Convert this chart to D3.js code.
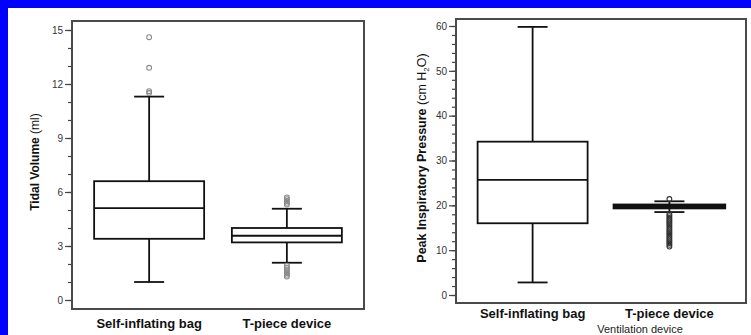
<!DOCTYPE html>
<html>
<head>
<meta charset="utf-8">
<script src="https://cdn.jsdelivr.net/npm/d3@7"></script>
<style>
  html, body { margin: 0; padding: 0; background: #fff; }
  svg { display: block; font-family: "Liberation Sans", Arial, sans-serif; }
</style>
</head>
<body>
<svg id="chart" width="751" height="335"></svg>
<script>
// Ventilation devices compared
const categories = ["Self-inflating bag", "T-piece device"];

// Tidal volume (ml): five-number summaries per device
const tvQ1 = [3.4, 3.2];
const tvMedian = [5.1, 3.57];
const tvQ3 = [6.6, 4.0];
const tvLow = [1.0, 2.07];
const tvHigh = [11.3, 5.07];
const tvOutliers = [
  [14.6, 12.9, 11.6, 11.5],
  [5.3, 5.4, 5.5, 5.6, 5.7, 1.9, 1.8, 1.7, 1.6, 1.5, 1.4, 1.3]
];
const tvTicks = [0, 3, 6, 9, 12, 15];

// Peak inspiratory pressure (cm H2O): five-number summaries per device
const pipQ1 = [16.0, 19.5];
const pipMedian = [25.7, 19.8];
const pipQ3 = [34.2, 20.0];
const pipLow = [2.8, 18.5];
const pipHigh = [59.8, 20.9];
const pipOutliers = [
  [],
  [21.4, 18.0, 17.6, 17.2, 16.8, 16.4, 16.0, 15.6, 15.2, 14.8, 14.4, 14.0, 13.6, 13.2, 12.8, 12.4, 12.0, 11.6, 11.2, 10.8]
];
const pipTicks = [0, 10, 20, 30, 40, 50, 60];

const svg = d3.select("#chart");

// Blue page edge along the top and left
svg.append("rect").attr("x", 0).attr("y", 0).attr("width", 751).attr("height", 8).attr("fill", "#0000ff");
svg.append("rect").attr("x", 0).attr("y", 0).attr("width", 8).attr("height", 335).attr("fill", "#0000ff");

function boxPanel(opt) {
  const g = svg.append("g");
  const x = d3.scalePoint().domain(categories).range([opt.x0, opt.x1]).padding(0.56);
  const y = d3.scaleLinear().domain(opt.domain).range([opt.yBottom, opt.yTop]);

  // plot frame
  g.append("rect")
    .attr("x", opt.x0).attr("y", opt.frameTop)
    .attr("width", opt.x1 - opt.x0).attr("height", opt.frameBottom - opt.frameTop)
    .attr("fill", "none").attr("stroke", "#4a4a4a").attr("stroke-width", 2);

  // minor ticks
  const minor = g.append("g").attr("transform", `translate(${opt.x0 - 1},0)`)
    .call(d3.axisLeft(y).tickValues(opt.minorTicks).tickSize(3).tickFormat(""));
  minor.select(".domain").remove();
  minor.selectAll("line").attr("stroke", "#444").attr("stroke-width", 1.2);

  // major ticks with labels
  const ax = g.append("g").attr("transform", `translate(${opt.x0 - 1},0)`)
    .call(d3.axisLeft(y).tickValues(opt.ticks).tickSize(6).tickPadding(2).tickFormat(d3.format("d")));
  ax.select(".domain").remove();
  ax.selectAll("line").attr("stroke", "#444").attr("stroke-width", 1.2);
  ax.selectAll("text").attr("fill", "#333").style("font-size", "10px")
    .style("font-family", "'Liberation Sans', Arial, sans-serif");

  const boxW = 110, capW = 30;
  categories.forEach((c, i) => {
    const cx = x(c);
    const lw = opt.thick && opt.thick[i] ? opt.thick[i] : 1.8;
    // whisker stems
    g.append("line").attr("x1", cx).attr("x2", cx)
      .attr("y1", y(opt.high[i])).attr("y2", y(opt.q3[i]))
      .attr("stroke", "#111").attr("stroke-width", 1.8);
    g.append("line").attr("x1", cx).attr("x2", cx)
      .attr("y1", y(opt.q1[i])).attr("y2", y(opt.low[i]))
      .attr("stroke", "#111").attr("stroke-width", 1.8);
    // caps
    [opt.high[i], opt.low[i]].forEach(v => {
      g.append("line").attr("x1", cx - capW / 2).attr("x2", cx + capW / 2)
        .attr("y1", y(v)).attr("y2", y(v))
        .attr("stroke", "#111").attr("stroke-width", 1.8);
    });
    // outliers
    g.selectAll(null).data(opt.outliers[i]).enter().append("circle")
      .attr("cx", cx).attr("cy", d => y(d)).attr("r", 2.4)
      .attr("fill", "none")
      .attr("stroke", opt.outlierColor ? opt.outlierColor[i] : "#8a8a8a")
      .attr("stroke-width", 1.1);
    // box
    g.append("rect")
      .attr("x", cx - boxW / 2).attr("y", y(opt.q3[i]))
      .attr("width", boxW).attr("height", y(opt.q1[i]) - y(opt.q3[i]))
      .attr("fill", "#fff").attr("stroke", "#111").attr("stroke-width", lw);
    g.append("line").attr("x1", cx - boxW / 2).attr("x2", cx + boxW / 2)
      .attr("y1", y(opt.median[i])).attr("y2", y(opt.median[i]))
      .attr("stroke", "#111").attr("stroke-width", lw);
  });

  // category labels
  g.selectAll(null).data(categories).enter().append("text")
    .attr("x", d => x(d)).attr("y", opt.labelY)
    .attr("text-anchor", "middle").attr("font-weight", "bold")
    .attr("font-size", "13px").attr("fill", "#111")
    .text(d => d);

  // y-axis title
  const t = g.append("text")
    .attr("transform", `translate(${opt.titleX},${opt.titleY}) rotate(-90)`)
    .attr("text-anchor", "middle").attr("font-size", opt.titleSize).attr("fill", "#111");
  opt.title(t);
  return { g, x, y };
}

// Tidal volume panel
boxPanel({
  x0: 72, x1: 364, yTop: 30, yBottom: 300, domain: [0, 15],
  frameTop: 21, frameBottom: 309,
  ticks: tvTicks, minorTicks: d3.range(0, 16, 1),
  q1: tvQ1, median: tvMedian, q3: tvQ3, low: tvLow, high: tvHigh, outliers: tvOutliers,
  labelY: 328, titleX: 39, titleY: 162, titleSize: "12px",
  title: t => {
    t.append("tspan").attr("font-weight", "bold").text("Tidal Volume ");
    t.append("tspan").text("(ml)");
  }
});

// Peak inspiratory pressure panel
boxPanel({
  x0: 456, x1: 746, yTop: 26, yBottom: 295, domain: [0, 60],
  frameTop: 19, frameBottom: 303,
  ticks: pipTicks, minorTicks: d3.range(0, 61, 2),
  q1: pipQ1, median: pipMedian, q3: pipQ3, low: pipLow, high: pipHigh, outliers: pipOutliers,
  thick: [1.8, 3.5], outlierColor: ["#8a8a8a", "#333"],
  labelY: 318, titleX: 426, titleY: 158, titleSize: "12.5px",
  title: t => {
    t.append("tspan").attr("font-weight", "bold").text("Peak Inspiratory Pressure ");
    t.append("tspan").text("(cm H");
    t.append("tspan").attr("font-size", "8px").attr("dy", 3).text("2");
    t.append("tspan").attr("dy", -3).text("O)");
  }
});

// shared x-axis title
svg.append("text").attr("x", 640).attr("y", 333)
  .attr("text-anchor", "middle").attr("font-size", "11px").attr("fill", "#222")
  .text("Ventilation device");
</script>
</body>
</html>
